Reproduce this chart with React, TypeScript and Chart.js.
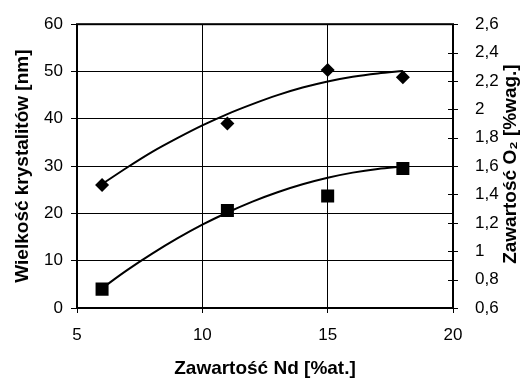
import React, { useEffect, useRef } from "react";
import { Chart, registerables } from "chart.js";

Chart.register(...registerables);

const ndContent = [6, 11, 15, 18];
const crystalliteSize = [26, 39, 50.3, 48.8];
const oxygenContent = [0.733, 1.287, 1.39, 1.583];

const trendX = [6, 7, 8, 9, 10, 11, 12, 13, 14, 15, 16, 17, 18];
const crystalliteTrend = [26.2, 29.7, 33.0, 35.9, 38.6, 41.0, 43.1, 45.0, 46.6, 47.9, 48.9, 49.6, 50.1];
const oxygenTrend = [0.74, 0.867, 0.983, 1.09, 1.187, 1.273, 1.35, 1.416, 1.472, 1.518, 1.554, 1.58, 1.597];

const xTitle = "Zawartość Nd [%at.]";
const yTitle = "Wielkość krystalitów [nm]";
const y1Title = "Zawartość O₂ [%wag.]";

const FONT = "'Liberation Sans', Arial, sans-serif";
const TICK_SIZE = 17;
const TITLE_SIZE = 19;

export default function App() {
  const ref = useRef<HTMLCanvasElement | null>(null);

  useEffect(() => {
    document.body.style.margin = "0";
    const canvas = ref.current;
    if (!canvas) return;
    Chart.defaults.color = "#000";
    Chart.defaults.font.family = FONT;

    const framePlugin = {
      id: "frame",
      beforeDatasetsDraw(chart: any) {
        const { ctx, chartArea } = chart;
        ctx.save();
        ctx.strokeStyle = "#000";
        ctx.lineWidth = 2;
        ctx.strokeRect(chartArea.left, chartArea.top, chartArea.right - chartArea.left, chartArea.bottom - chartArea.top);
        const s = chart.scales.y1;
        ctx.lineWidth = 1;
        s.ticks.forEach((t: any) => {
          const py = Math.round(s.getPixelForValue(t.value)) + 0.5;
          ctx.beginPath();
          ctx.moveTo(chartArea.right - 5, py);
          ctx.lineTo(chartArea.right + 5, py);
          ctx.stroke();
        });
        ctx.restore();
      },
      afterDraw(chart: any) {
        const { ctx, chartArea } = chart;
        ctx.save();
        ctx.fillStyle = "#000";
        ctx.font = `bold ${TITLE_SIZE}px ${FONT}`;
        ctx.textAlign = "center";
        ctx.textBaseline = "middle";
        ctx.translate(511, (chartArea.top + chartArea.bottom) / 2 - 2);
        ctx.rotate(-Math.PI / 2);
        ctx.fillText(y1Title, 0, 0);
        ctx.restore();
      },
    };

    const chart = new Chart(canvas, {
      type: "scatter",
      data: {
        datasets: [
          {
            label: "crystallite",
            data: ndContent.map((x, i) => ({ x, y: crystalliteSize[i] })),
            yAxisID: "y",
            pointStyle: "rectRot",
            pointRadius: 7,
            backgroundColor: "#000",
            borderColor: "#000",
            borderWidth: 0,
            order: 0,
          },
          {
            label: "oxygen",
            data: ndContent.map((x, i) => ({ x, y: oxygenContent[i] })),
            yAxisID: "y1",
            pointStyle: "rect",
            pointRadius: 9.2,
            backgroundColor: "#000",
            borderColor: "#000",
            borderWidth: 0,
            order: 0,
          },
          {
            label: "crystallite trend",
            data: trendX.map((x, i) => ({ x, y: crystalliteTrend[i] })),
            yAxisID: "y",
            showLine: true,
            pointRadius: 0,
            borderColor: "#000",
            borderWidth: 2,
            cubicInterpolationMode: "monotone",
            order: 1,
          },
          {
            label: "oxygen trend",
            data: trendX.map((x, i) => ({ x, y: oxygenTrend[i] })),
            yAxisID: "y1",
            showLine: true,
            pointRadius: 0,
            borderColor: "#000",
            borderWidth: 2,
            cubicInterpolationMode: "monotone",
            order: 1,
          },
        ] as any,
      },
      options: {
        animation: false,
        responsive: false,
        maintainAspectRatio: false,
        layout: { padding: { top: 22, left: 0, right: 0, bottom: 0 } },
        plugins: { legend: { display: false }, tooltip: { enabled: false } },
        scales: {
          x: {
            type: "linear",
            min: 5,
            max: 20,
            ticks: { stepSize: 5, padding: 12, font: { size: TICK_SIZE }, color: "#000" },
            grid: { color: "#000", lineWidth: 1, tickLength: 5 },
            border: { display: false },
            title: { display: true, text: xTitle, font: { size: TITLE_SIZE, weight: "bold", lineHeight: 1 }, color: "#000", padding: { top: 0, bottom: 0 } },
            afterFit: (s: any) => { s.height = 70; },
          },
          y: {
            position: "left",
            min: 0,
            max: 60,
            ticks: { stepSize: 10, padding: 8, font: { size: TICK_SIZE }, color: "#000" },
            grid: { color: "#000", lineWidth: 1, tickLength: 6 },
            border: { display: false },
            title: { display: true, text: yTitle, font: { size: TITLE_SIZE, weight: "bold" }, color: "#000", padding: { top: 11, bottom: 0 } },
            afterFit: (s: any) => { s.width = 77; },
          },
          y1: {
            position: "right",
            min: 0.6,
            max: 2.6,
            ticks: {
              stepSize: 0.2,
              padding: 14,
              font: { size: TICK_SIZE },
              color: "#000",
              callback: (v: any) => String(Math.round(Number(v) * 10) / 10).replace(".", ","),
            },
            grid: { display: false },
            border: { display: false },
            afterFit: (s: any) => { s.width = 71; },
          },
        },
      } as any,
      plugins: [framePlugin],
    });
    return () => chart.destroy();
  }, []);

  return (
    <div style={{ position: "absolute", left: 0, top: 0, width: 524, height: 378 }}>
      <canvas ref={ref} width={524} height={378} style={{ width: 524, height: 378, display: "block" }} />
    </div>
  );
}
